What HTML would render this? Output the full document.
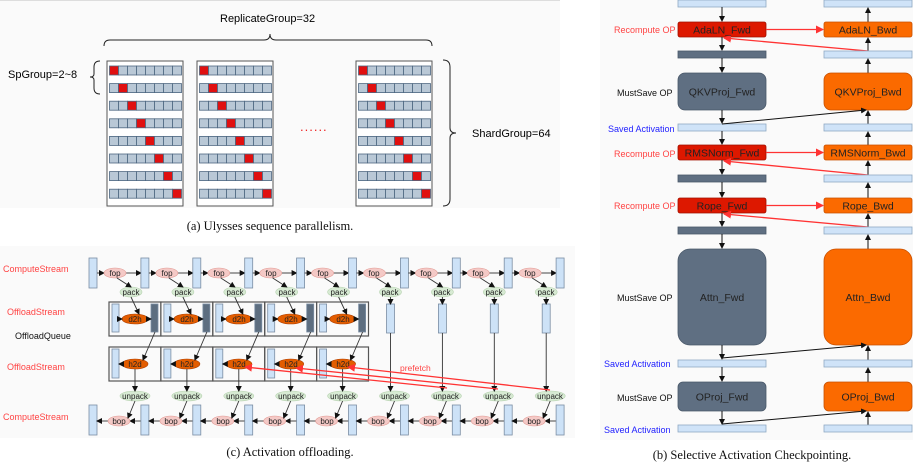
<!DOCTYPE html>
<html><head><meta charset="utf-8"><style>
html,body{margin:0;padding:0;background:#fff;width:913px;height:471px;overflow:hidden}
svg{display:block;font-family:"Liberation Sans",sans-serif}
.cap{font-family:"Liberation Serif",serif;font-size:12.5px;fill:#111}
.el{font-size:8px;fill:#222;text-anchor:middle}
</style></head><body>
<svg id="s" width="913" height="471" viewBox="0 0 913 471" xmlns="http://www.w3.org/2000/svg">
<defs>
<marker id="ak" markerWidth="6" markerHeight="6" refX="5" refY="3" orient="auto" markerUnits="userSpaceOnUse"><path d="M0,0 L6,3 L0,6 z" fill="#111"/></marker>
<marker id="ar" markerWidth="8" markerHeight="8" refX="7" refY="4" orient="auto" markerUnits="userSpaceOnUse"><path d="M0,0 L8,4 L0,8 z" fill="#f33"/></marker>
</defs>
<rect x="0" y="0" width="560" height="208" fill="#fafafa"/>
<rect x="0" y="246" width="575" height="192" fill="#fafafa"/>
<rect x="600" y="0" width="313" height="440" fill="#fafafa"/>
<line x1="0" y1="0.5" x2="560" y2="0.5" stroke="#ddd"/>

<text x="220" y="22" font-size="11">ReplicateGroup=32</text>
<path d="M104,46 Q104,40 110,40 L264,40 Q270,40 270,34 Q270,40 276,40 L426,40 Q432,40 432,46" fill="none" stroke="#222" stroke-width="1"/>
<text x="8" y="78" font-size="11">SpGroup=2~8</text>
<path d="M100,61 Q94,61 94,67 L94,74 Q94,77 90,77 Q94,77 94,80 L94,88 Q94,94 100,94" fill="none" stroke="#222"/>
<path d="M443,60 Q450,60 450,67 L450,128 Q450,133 456,133 Q450,133 450,138 L450,199 Q450,206 443,206" fill="none" stroke="#222"/>
<text x="472" y="137" font-size="11">ShardGroup=64</text>
<text x="300" y="131" font-size="13" fill="#e22" letter-spacing="1">......</text>
<g id="racks"></g>
<text class="cap" x="270" y="230" text-anchor="middle">(a) Ulysses sequence parallelism.</text>

<g font-size="9">
<text x="3" y="272" fill="#f44">ComputeStream</text>
<text x="7" y="315" fill="#f44">OffloadStream</text>
<text x="15" y="339" fill="#111">OffloadQueue</text>
<text x="7" y="370" fill="#f44">OffloadStream</text>
<text x="3" y="420" fill="#f44">ComputeStream</text>
</g>
<g id="cg"></g>
<g class="el">
<text x="115" y="276">fop</text><text x="167" y="276">fop</text><text x="219" y="276">fop</text><text x="271" y="276">fop</text><text x="323" y="276">fop</text><text x="374" y="276">fop</text><text x="426" y="276">fop</text><text x="478" y="276">fop</text><text x="530" y="276">fop</text>
<text x="131" y="295">pack</text><text x="183" y="295">pack</text><text x="235" y="295">pack</text><text x="287" y="295">pack</text><text x="339" y="295">pack</text><text x="390" y="295">pack</text><text x="442" y="295">pack</text><text x="494" y="295">pack</text><text x="546" y="295">pack</text>
<text x="135" y="322">d2h</text><text x="187" y="322">d2h</text><text x="239" y="322">d2h</text><text x="291" y="322">d2h</text><text x="343" y="322">d2h</text>
<text x="135" y="367">h2d</text><text x="187" y="367">h2d</text><text x="239" y="367">h2d</text><text x="291" y="367">h2d</text><text x="343" y="367">h2d</text>
<text x="135" y="399">unpack</text><text x="187" y="399">unpack</text><text x="239" y="399">unpack</text><text x="291" y="399">unpack</text><text x="343" y="399">unpack</text><text x="394" y="399">unpack</text><text x="446" y="399">unpack</text><text x="498" y="399">unpack</text><text x="550" y="399">unpack</text>
<text x="119" y="424">bop</text><text x="171" y="424">bop</text><text x="223" y="424">bop</text><text x="275" y="424">bop</text><text x="327" y="424">bop</text><text x="378" y="424">bop</text><text x="430" y="424">bop</text><text x="482" y="424">bop</text><text x="534" y="424">bop</text>
</g>
<g stroke="#f33" stroke-width="1.3" fill="none">
<line x1="447" y1="388" x2="245" y2="367" marker-end="url(#ar)"/>
<line x1="498" y1="389" x2="296" y2="368" marker-end="url(#ar)"/>
<line x1="550" y1="390" x2="348" y2="367" marker-end="url(#ar)"/>
</g>
<text x="400" y="371" font-size="8.5" fill="#f44">prefetch</text>
<text class="cap" x="290" y="456" text-anchor="middle">(c) Activation offloading.</text>

<g id="bg"></g>
<g font-size="9">
<text x="614" y="33" fill="#f44">Recompute OP</text>
<text x="617" y="96" fill="#111">MustSave OP</text>
<text x="608" y="132" fill="#22f">Saved Activation</text>
<text x="614" y="157" fill="#f44">Recompute OP</text>
<text x="614" y="209" fill="#f44">Recompute OP</text>
<text x="617" y="301" fill="#111">MustSave OP</text>
<text x="604" y="367" fill="#22f">Saved Activation</text>
<text x="617" y="401" fill="#111">MustSave OP</text>
<text x="604" y="433" fill="#22f">Saved Activation</text>
</g>
<g font-size="10.5" fill="#222" text-anchor="middle">
<text x="722" y="33.5">AdaLN_Fwd</text><text x="868" y="33.5">AdaLN_Bwd</text>
<text x="722" y="95.5">QKVProj_Fwd</text><text x="868" y="95.5">QKVProj_Bwd</text>
<text x="722" y="156.5">RMSNorm_Fwd</text><text x="868" y="156.5">RMSNorm_Bwd</text>
<text x="722" y="209.5">Rope_Fwd</text><text x="868" y="209.5">Rope_Bwd</text>
<text x="722" y="301">Attn_Fwd</text><text x="868" y="301">Attn_Bwd</text>
<text x="722" y="400.5">OProj_Fwd</text><text x="868" y="400.5">OProj_Bwd</text>
</g>
<text class="cap" x="752" y="459" text-anchor="middle">(b) Selective Activation Checkpointing.</text>
</svg>
<script>
var NS="http://www.w3.org/2000/svg";
function el(p,t,a){var e=document.createElementNS(NS,t);for(var k in a)e.setAttribute(k,a[k]);p.appendChild(e);return e;}
var R=document.getElementById("racks");
[107,197,356].forEach(function(rx){
 el(R,"rect",{x:rx,y:61,width:76,height:145,fill:"#fff",stroke:"#555","stroke-width":1});
 for(var r=0;r<8;r++){var y=66+r*17.6;
  for(var c=0;c<8;c++){el(R,"rect",{x:rx+2.5+c*9,y:y,width:9,height:9,fill:c==r?"#e01010":"#b9c8d6",stroke:"#4d6680","stroke-width":0.8});}
 }
});
var G=document.getElementById("cg");
function ln(x1,y1,x2,y2,m){el(G,"line",{x1:x1,y1:y1,x2:x2,y2:y2,stroke:"#333","stroke-width":0.9,"marker-end":m?"url(#ak)":""});}
function bar(x,y,w,h,f){el(G,"rect",{x:x,y:y,width:w,height:h,fill:f||"#cde2f7",stroke:"#7b8ea3","stroke-width":0.8});}
function ell(cx,cy,rx,f,s){el(G,"ellipse",{cx:cx,cy:cy,rx:rx,ry:5,fill:f,stroke:s,"stroke-width":0.6});}
for(var b=0;b<5;b++){var bx=109+51.9*b;
 el(G,"rect",{x:bx,y:302,width:51.9,height:34,fill:"none",stroke:"#555","stroke-width":1.2});
 el(G,"rect",{x:bx,y:347,width:51.9,height:34,fill:"none",stroke:"#555","stroke-width":1.2});
}
for(var i=0;i<10;i++){var x=89+51.9*i;
 bar(x,258,8,30); bar(x,405,8,30);
 if(i<9){
  var fx=x+26, px=x+42, ux=x+46, bx2=x+30;
  ln(x+8,273,fx-11,273,1); ln(fx+11,273,x+51.9,273,1);
  ell(fx,273,11,"#f4c9c6","#e29a94");
  ell(px,292,11,"#d7ead3","#b7d3b0");
  ln(fx+2,278,px,287,1);
  ln(x+51.9,421,bx2+11,421,1); ln(bx2-11,421,x+8,421,1);
  ell(bx2,421,11,"#f4c9c6","#e29a94");
  ell(ux,396,15,"#d7ead3","#b7d3b0");
  ln(ux,401,bx2+9,418,1);
  if(i<5){var B=109+51.9*i;
   bar(B+3,304,7,28); bar(B+42,304,7,28,"#5d6e80");
   ell(B+26,319,13,"#e35d00","#b04000");
   ln(B+10,319,B+13,319,1); ln(B+39,319,B+42,319,1);
   ln(px,297,B+30,314,1);
   bar(B+3,349,7,29);
   ell(B+26,364,13,"#e35d00","#b04000");
   ln(B+13,364,B+10,364,1);
   ln(B+46,332,B+34,360,1);
   ln(B+26,369,B+26,391,1);
  } else {
   bar(px-4,304,8,29);
   ln(px,297,px,304,1);
   ln(px,333,px,391,1);
  }
 }
}
var P=document.getElementById("bg");
function rb(x,y,w,h,f,s,r){el(P,"rect",{x:x,y:y,width:w,height:h,rx:r||0,fill:f,stroke:s,"stroke-width":0.8});}
function pl(x1,y1,x2,y2,c,m,w){el(P,"line",{x1:x1,y1:y1,x2:x2,y2:y2,stroke:c,"stroke-width":w||1,"marker-end":m});}
var LX=678,RX=824,W=88,LB="#cfe3f8",LBS="#8fa9c4",DK="#5f6f82",RED="#dd1800",OR="#fb6a00";
var rows=[[0,7,"b"],[22,15,"r",2],[51,7,"d"],[73,37,"m",7],[124,7,"s"],[145,15,"r",2],[175,7,"d"],[198,15,"r",2],[227,7,"d"],[249,96,"m",12],[360,7,"s"],[382,29,"m",5],[425,7,"s"]];
rows.forEach(function(r,k){var y=r[0],h=r[1],t=r[2],rr=r[3]||0;
 if(t=="b"||t=="s"){rb(LX,y,W,h,LB,LBS);rb(RX,y,W,h,LB,LBS);}
 else if(t=="d"){rb(LX,y,W,h,DK,"#4a596a");rb(RX,y,W,h,LB,LBS);}
 else if(t=="r"){rb(LX,y,W,h,RED,"#a01000",rr);rb(RX,y,W,h,OR,"#c85000",rr);}
 else {rb(LX,y,W,h,DK,"#4a596a",rr);rb(RX,y,W,h,OR,"#c85000",rr);}
 if(k<rows.length-1){var n=rows[k+1][0];
  pl(722,y+h,722,n-1,"#111","url(#ak)");
  pl(868,n,868,y+h+1,"#111","url(#ak)");
 }
 if(t=="r"){pl(LX+W,y+h/2,RX-1,y+h/2,"#f33","url(#ar)",1.3);
  var ny=rows[k+1][0]; pl(868,ny,724,y+h+1,"#f33","url(#ar)",1.3);}
});
pl(722,124,866,110,"#111","url(#ak)");
pl(722,358,866,345,"#111","url(#ak)");
pl(722,424,866,411,"#111","url(#ak)");
</script>
</body></html>
